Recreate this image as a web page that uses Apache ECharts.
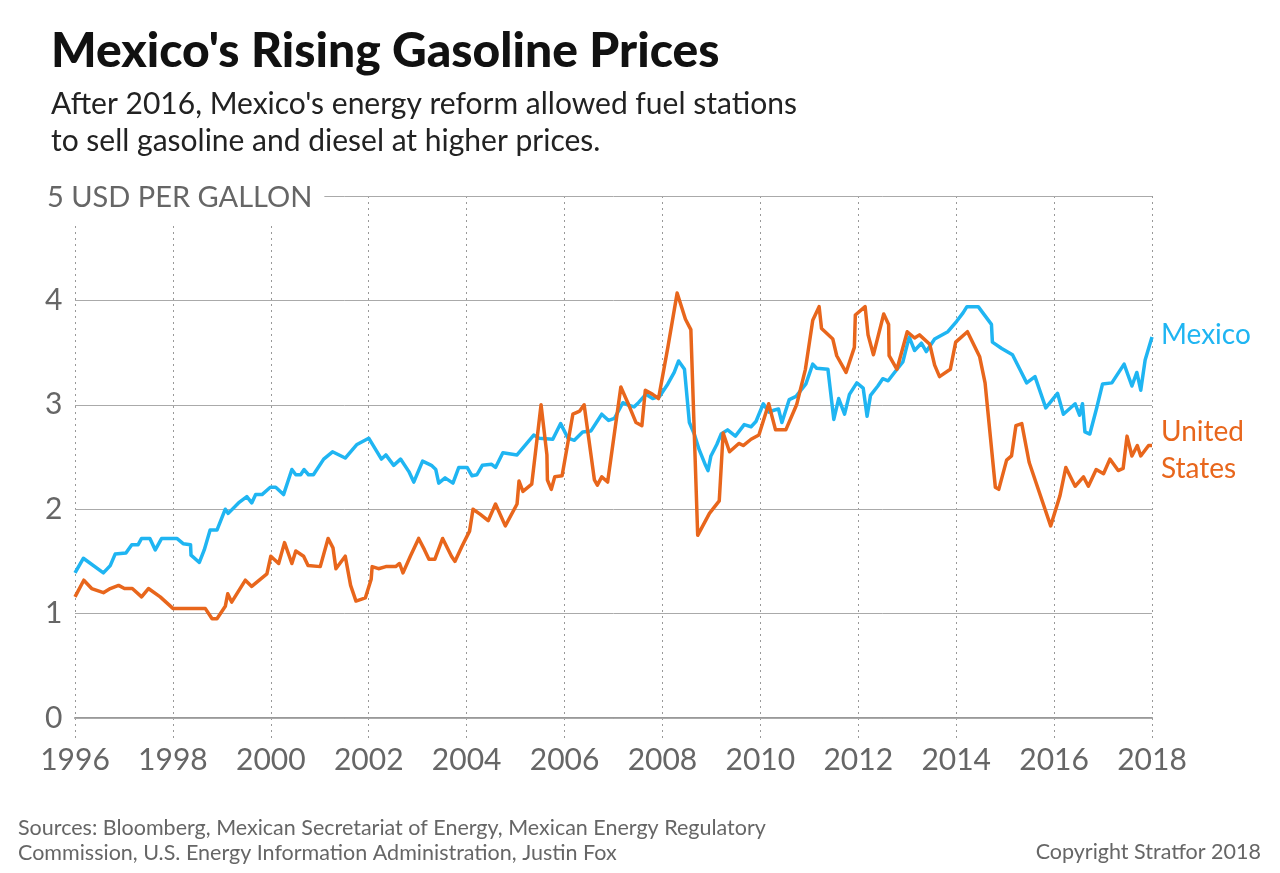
<!DOCTYPE html>
<html>
<head>
<meta charset="utf-8">
<script src="https://cdn.jsdelivr.net/npm/echarts@6/dist/echarts.min.js"></script>
<style>
  html, body { margin: 0; padding: 0; background: #fff; }
  #chart { width: 1280px; height: 873px; }
</style>
</head>
<body>
<div id="chart"></div>
<script>
// Mexico pump price, USD per gallon
const mexYears = [
  1996.00, 1996.17, 1996.58, 1996.72, 1996.82, 1997.04, 1997.16, 1997.29, 1997.36, 1997.53,
  1997.64, 1997.77, 1998.08, 1998.21, 1998.36, 1998.37, 1998.54, 1998.64, 1998.76, 1998.90,
  1999.07, 1999.13, 1999.34, 1999.51, 1999.61, 1999.69, 1999.82, 1999.99, 2000.10, 2000.26,
  2000.43, 2000.51, 2000.61, 2000.68, 2000.77, 2000.87, 2001.08, 2001.26, 2001.52, 2001.76,
  2002.00, 2002.26, 2002.35, 2002.51, 2002.65, 2002.82, 2002.92, 2003.10, 2003.28, 2003.37,
  2003.43, 2003.56, 2003.72, 2003.84, 2004.01, 2004.11, 2004.21, 2004.32, 2004.51, 2004.59,
  2004.74, 2005.03, 2005.37, 2005.48, 2005.76, 2005.92, 2006.07, 2006.20, 2006.37, 2006.54,
  2006.76, 2006.90, 2007.02, 2007.19, 2007.29, 2007.42, 2007.51, 2007.66, 2007.80, 2007.94,
  2008.11, 2008.24, 2008.33, 2008.45, 2008.55, 2008.65, 2008.75, 2008.88, 2008.93, 2008.99,
  2009.11, 2009.20, 2009.33, 2009.49, 2009.67, 2009.81, 2009.91, 2010.06, 2010.17, 2010.29,
  2010.37, 2010.44, 2010.59, 2010.73, 2010.93, 2011.07, 2011.15, 2011.38, 2011.50, 2011.60,
  2011.72, 2011.82, 2011.97, 2012.10, 2012.18, 2012.25, 2012.40, 2012.50, 2012.61, 2012.74,
  2012.91, 2013.04, 2013.15, 2013.29, 2013.39, 2013.56, 2013.83, 2014.01, 2014.14, 2014.22,
  2014.45, 2014.72, 2014.74, 2014.93, 2015.15, 2015.30, 2015.44, 2015.61, 2015.83, 2016.07,
  2016.19, 2016.43, 2016.52, 2016.58, 2016.63, 2016.73, 2016.87, 2016.99, 2017.18, 2017.43,
  2017.59, 2017.69, 2017.77, 2017.86, 2018.00
];
const mexPrices = [
  1.39, 1.53, 1.39, 1.46, 1.57, 1.58, 1.66, 1.66, 1.72, 1.72,
  1.61, 1.72, 1.72, 1.67, 1.66, 1.56, 1.49, 1.61, 1.80, 1.80,
  2.00, 1.96, 2.06, 2.12, 2.06, 2.14, 2.14, 2.21, 2.21, 2.14,
  2.38, 2.33, 2.33, 2.38, 2.33, 2.33, 2.48, 2.55, 2.49, 2.62,
  2.68, 2.48, 2.52, 2.42, 2.48, 2.36, 2.26, 2.46, 2.42, 2.38,
  2.25, 2.30, 2.25, 2.40, 2.40, 2.32, 2.33, 2.42, 2.43, 2.40,
  2.54, 2.52, 2.71, 2.68, 2.67, 2.82, 2.68, 2.66, 2.74, 2.75,
  2.91, 2.85, 2.87, 3.02, 3.00, 2.98, 3.02, 3.10, 3.06, 3.08,
  3.20, 3.31, 3.42, 3.34, 2.83, 2.72, 2.57, 2.42, 2.37, 2.51,
  2.62, 2.72, 2.76, 2.70, 2.81, 2.79, 2.84, 3.01, 2.93, 2.95,
  2.96, 2.83, 3.05, 3.08, 3.20, 3.39, 3.35, 3.34, 2.86, 3.06,
  2.91, 3.10, 3.21, 3.16, 2.89, 3.09, 3.18, 3.25, 3.23, 3.31,
  3.41, 3.65, 3.52, 3.59, 3.51, 3.63, 3.70, 3.80, 3.88, 3.94,
  3.94, 3.77, 3.60, 3.54, 3.48, 3.34, 3.21, 3.27, 2.97, 3.11,
  2.91, 3.01, 2.90, 3.01, 2.74, 2.72, 2.97, 3.20, 3.21, 3.39,
  3.18, 3.31, 3.14, 3.43, 3.65
];

// United States pump price, USD per gallon
const usYears = [
  1996.00, 1996.18, 1996.34, 1996.58, 1996.72, 1996.89, 1997.01, 1997.17, 1997.36, 1997.50,
  1997.74, 1998.00, 1998.66, 1998.80, 1998.90, 1999.07, 1999.12, 1999.20, 1999.48, 1999.61,
  1999.92, 2000.00, 2000.16, 2000.28, 2000.43, 2000.51, 2000.67, 2000.76, 2001.01, 2001.17,
  2001.27, 2001.33, 2001.52, 2001.63, 2001.74, 2001.93, 2002.05, 2002.07, 2002.20, 2002.35,
  2002.55, 2002.63, 2002.70, 2002.85, 2003.02, 2003.14, 2003.23, 2003.35, 2003.51, 2003.69,
  2003.76, 2003.91, 2004.06, 2004.13, 2004.28, 2004.44, 2004.59, 2004.79, 2005.03, 2005.07,
  2005.15, 2005.33, 2005.52, 2005.64, 2005.65, 2005.73, 2005.80, 2005.95, 2006.17, 2006.31,
  2006.40, 2006.61, 2006.67, 2006.76, 2006.88, 2007.15, 2007.31, 2007.46, 2007.58, 2007.65,
  2007.80, 2007.92, 2008.11, 2008.30, 2008.47, 2008.58, 2008.72, 2008.96, 2009.16, 2009.24,
  2009.37, 2009.56, 2009.65, 2009.81, 2009.97, 2010.17, 2010.31, 2010.52, 2010.74, 2010.92,
  2011.07, 2011.20, 2011.25, 2011.48, 2011.56, 2011.75, 2011.92, 2011.94, 2012.14, 2012.20,
  2012.31, 2012.52, 2012.62, 2012.63, 2012.79, 2013.00, 2013.15, 2013.25, 2013.46, 2013.56,
  2013.66, 2013.88, 2013.99, 2014.23, 2014.48, 2014.59, 2014.80, 2014.87, 2015.03, 2015.13,
  2015.22, 2015.34, 2015.49, 2015.93, 2016.12, 2016.24, 2016.43, 2016.60, 2016.70, 2016.86,
  2017.01, 2017.14, 2017.31, 2017.41, 2017.49, 2017.59, 2017.70, 2017.77, 2017.93, 2018.00
];
const usPrices = [
  1.16, 1.32, 1.24, 1.20, 1.24, 1.27, 1.24, 1.24, 1.16, 1.24,
  1.16, 1.05, 1.05, 0.95, 0.95, 1.07, 1.19, 1.11, 1.32, 1.26,
  1.38, 1.55, 1.48, 1.68, 1.48, 1.60, 1.55, 1.46, 1.45, 1.72,
  1.63, 1.43, 1.55, 1.27, 1.12, 1.15, 1.33, 1.45, 1.43, 1.45,
  1.45, 1.48, 1.39, 1.55, 1.72, 1.61, 1.52, 1.52, 1.72, 1.55,
  1.50, 1.65, 1.79, 2.00, 1.95, 1.89, 2.05, 1.84, 2.05, 2.27,
  2.17, 2.24, 3.00, 2.52, 2.28, 2.19, 2.31, 2.32, 2.91, 2.94,
  3.00, 2.28, 2.23, 2.31, 2.26, 3.17, 3.00, 2.83, 2.80, 3.14,
  3.10, 3.06, 3.55, 4.07, 3.82, 3.72, 1.75, 1.96, 2.08, 2.73,
  2.55, 2.63, 2.61, 2.67, 2.71, 3.01, 2.76, 2.76, 3.00, 3.34,
  3.81, 3.94, 3.73, 3.63, 3.47, 3.31, 3.55, 3.86, 3.94, 3.67,
  3.48, 3.87, 3.77, 3.47, 3.34, 3.70, 3.64, 3.67, 3.58, 3.38,
  3.27, 3.34, 3.60, 3.70, 3.46, 3.21, 2.21, 2.19, 2.47, 2.51,
  2.80, 2.82, 2.45, 1.84, 2.13, 2.40, 2.22, 2.31, 2.22, 2.38,
  2.34, 2.48, 2.37, 2.39, 2.70, 2.51, 2.61, 2.51, 2.61, 2.61
];

const xTicks = [1996, 1998, 2000, 2002, 2004, 2006, 2008, 2010, 2012, 2014, 2016, 2018];

const BLUE = '#1fb5f2';
const ORANGE = '#e8661c';
const GREY = '#666';
const SANS = 'Lato, "Open Sans", sans-serif';

const zip = (xs, ys) => xs.map((x, i) => [x, ys[i]]);

const chart = echarts.init(document.getElementById('chart'), null, { renderer: 'canvas' });

const option = {
    backgroundColor: '#fff',
    animation: false,
    title: [
        {
            text: "Mexico's Rising Gasoline Prices",
            left: 46,
            top: 23,
            textStyle: { fontFamily: SANS, fontWeight: 900, fontSize: 48, color: '#111' },
        },
        {
            text: "After 2016, Mexico's energy reform allowed fuel stations\nto sell gasoline and diesel at higher prices.",
            left: 46,
            top: 81,
            textStyle: { fontFamily: SANS, fontSize: 30, lineHeight: 37, color: '#222', fontWeight: 'normal' },
        },
        {
            text: 'Sources: Bloomberg, Mexican Secretariat of Energy, Mexican Energy Regulatory\nCommission, U.S. Energy Information Administration, Justin Fox',
            left: 13,
            top: 811,
            textStyle: { fontFamily: SANS, fontSize: 21.5, lineHeight: 25, color: GREY, fontWeight: 'normal' },
        },
        {
            text: 'Copyright Stratfor 2018',
            right: 14,
            top: 836,
            textStyle: { fontFamily: SANS, fontSize: 21.5, color: GREY, fontWeight: 'normal' },
        },
    ],
    grid: { left: 75, right: 128, top: 196, bottom: 155, containLabel: false },
    xAxis: {
        type: 'value',
        min: 1996,
        max: 2018,
        interval: 2,
        z: 0,
        axisLine: { show: true, onZero: false, lineStyle: { color: '#999', width: 2 } },
        axisTick: { show: true, length: 24, lineStyle: { color: '#999', type: [2, 4], width: 1 } },
        axisLabel: {
            margin: 27,
            fontFamily: SANS,
            fontSize: 30,
            color: GREY,
            formatter: (v) => (xTicks.includes(v) ? String(v) : ''),
        },
        splitLine: { show: true, lineStyle: { color: '#999', type: [2, 4], width: 1 } },
    },
    yAxis: {
        type: 'value',
        min: 0,
        max: 5,
        interval: 1,
        z: 1,
        axisLine: { show: false },
        axisTick: { show: false },
        axisLabel: {
            align: 'left',
            margin: 30,
            fontFamily: SANS,
            fontSize: 30,
            color: GREY,
            formatter: (v) => (v === 5 ? '{top|5 USD PER GALLON}' : String(v)),
            rich: {
                top: {
                    fontFamily: SANS,
                    fontSize: 29,
                    color: GREY,
                    backgroundColor: '#fff',
                    padding: [14, 12, 10, 2],
                },
            },
        },
        splitLine: { show: true, lineStyle: { color: '#aaa', width: 1 } },
    },
    series: [
        {
            name: 'Mexico',
            type: 'line',
            data: zip(mexYears, mexPrices),
            showSymbol: false,
            z: 3,
            lineStyle: { color: BLUE, width: 3.5, join: 'round' },
            itemStyle: { color: BLUE },
            endLabel: {
                show: true,
                formatter: 'Mexico',
                distance: 9,
                offset: [0, -2],
                color: BLUE,
                fontFamily: SANS,
                fontSize: 28,
            },
        },
        {
            name: 'United States',
            type: 'line',
            data: zip(usYears, usPrices),
            showSymbol: false,
            z: 4,
            lineStyle: { color: ORANGE, width: 3.5, join: 'round' },
            itemStyle: { color: ORANGE },
            endLabel: {
                show: true,
                formatter: 'United\nStates',
                distance: 9,
                offset: [0, 5],
                color: ORANGE,
                fontFamily: SANS,
                fontSize: 28,
                lineHeight: 37,
            },
        },
    ],
};

chart.setOption(option);
</script>
</body>
</html>
